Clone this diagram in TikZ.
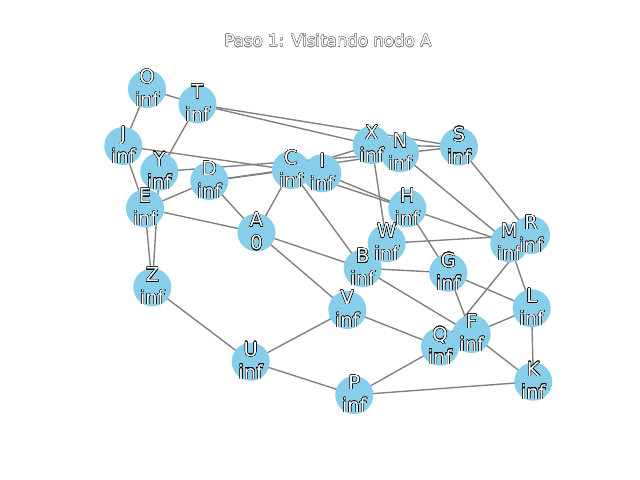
\documentclass[tikz,border=0pt]{standalone}
\usepackage{fontspec}
\setmainfont{DejaVu Sans}
\usepackage{contour}
\contourlength{0.25pt}
\contournumber{24}
\definecolor{skyb}{HTML}{87CEEB}
\pgfdeclarelayer{bg}
\pgfsetlayers{bg,main}
\begin{document}
\begin{tikzpicture}[x=0.01in,y=-0.01in,
  vert/.style={circle,fill=skyb,minimum size=0.38in,inner sep=0pt},
  lbl/.style={text=white,align=center,inner sep=0pt,yshift=0.7pt,font=\fontsize{14}{16.5}\selectfont},
  conn/.style={draw=gray,line width=1pt}]
\useasboundingbox (0,0) rectangle (640,480);
\node[text=white,inner sep=0pt,font=\fontsize{12}{14}\selectfont,anchor=base] (title) at (328,46.7) {\contour{gray}{Paso 1: Visitando nodo A}};
% circles
\foreach \n/\x/\y in {O/147/89, T/197.5/104.3, J/123.3/146, Y/159.3/171.7, D/209.3/181, E/145/208.3,
  C/291/170, I/322.3/173.3, A/256.5/232.5, X/371.7/145, N/400/153.3, S/459/146.7, H/407.3/208.3,
  W/386.7/243.3, B/362.7/268.3, G/448.3/272.7, M/509.3/243.3, R/531/235, Z/152.3/287.3,
  U/250.7/361.7, V/347.3/310, P/354.3/395, Q/440/346.7, F/471.7/334, L/531.7/308.3, K/533.3/381.7}
  {\node[vert] (\n) at (\x,\y) {};}
\foreach \n/\t in {O/O, T/T, J/J, Y/Y, D/D, E/E, C/C, I/I, X/X, N/N, S/S, H/H, W/W, B/B, G/G, M/M, R/R,
  Z/Z, U/U, V/V, P/P, Q/Q, F/F, L/L, K/K}
  {\node[lbl] (\n-l) at (\n) {\contour{black}{\t}\\\contour{black}{inf}};}
\node[lbl] (A-l) at (A) {\contour{black}{A}\\\contour{black}{0}};
\begin{pgfonlayer}{bg}
\fill[white] (0,0) rectangle (640,480);
\foreach \a/\b in {O/J, O/T, T/X, T/S, T/Y, J/E, J/C, Y/Z, E/Z, E/D, E/A, Y/N, D/C, D/N, D/A, C/A, C/B,
  C/X, I/H, C/H, H/M, X/W, X/S, N/S, N/M, S/R, W/R, H/G, A/B, A/V, B/G, B/F, G/L, G/F, R/Q, M/L,
  L/F, L/K, F/K, V/Q, Q/P, P/K, U/P, U/V, Z/U}
  {\draw[conn] (\a.center) -- (\b.center);}
\end{pgfonlayer}
\end{tikzpicture}
\end{document}
